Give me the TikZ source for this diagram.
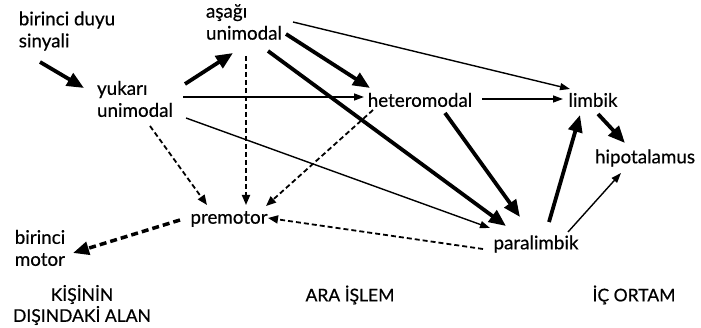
\documentclass[tikz,border=0pt]{standalone}
\usepackage{fontspec}
\setmainfont{Lato}
\newfontfamily\labfont{Lato}[FakeBold=0.5]
\usetikzlibrary{arrows.meta}
\begin{document}
\begin{tikzpicture}[x=1pt,y=-1pt,
  lbl/.style={inner sep=0pt,font=\labfont\fontsize{18.8}{22}\selectfont,align=left},
  hdr/.style={inner sep=0pt,font=\labfont\fontsize{17.5}{21}\selectfont,align=center},
  thick arrow/.style={line width=3.8pt,-{Triangle[length=17pt,width=14pt]}},
  thin arrow/.style={line width=1.4pt,-{Triangle[length=10pt,width=7pt]}},
  dash arrow/.style={line width=1.8pt,dash pattern=on 5pt off 3pt,-{Triangle[length=10pt,width=8pt]}},
  thickdash arrow/.style={line width=3.5pt,dash pattern=on 7pt off 4pt,-{Triangle[length=16pt,width=13pt]}}]
\useasboundingbox[fill=white] (0,0) rectangle (701,328);
\node[lbl] (duyu) at (67,31) {birinci duyu\\sinyali};
\node[lbl] (yuk) at (135,99) {yukarı\\unimodal};
\node[lbl] (asa) at (244,22) {aşağı\\unimodal};
\node[lbl] (het) at (420,100) {heteromodal};
\node[lbl] (lim) at (593,100) {limbik};
\node[lbl] (hip) at (645,158) {hipotalamus};
\node[lbl] (pre) at (229,219) {premotor};
\node[lbl] (mot) at (40,248) {birinci\\motor};
\node[lbl] (par) at (536,244) {paralimbik};
\node[hdr] (h1) at (82,305) {KİŞİNİN\\DIŞINDAKİ ALAN};
\node[hdr] (h2) at (350,295) {ARA İŞLEM};
\node[hdr] (h3) at (634,295) {İÇ ORTAM};
% connectors
\draw[thick arrow] ([shift={(-27,31)}]duyu.center) -- ([shift={(-51,-11)}]yuk.center);
\draw[thick arrow] ([shift={(50,-15)}]yuk.center) -- ([shift={(-11,31)}]asa.center);
\draw[thin arrow] ([shift={(48,-2)}]yuk.center) -- ([shift={(-56,-3)}]het.center);
\draw[thin arrow] ([shift={(51,19)}]yuk.center) -- ([shift={(-46,-16)}]par.center);
\draw[dash arrow] ([shift={(15,27)}]yuk.center) -- ([shift={(-22,-14)}]pre.center);
\draw[dash arrow] ([shift={(2,34)}]asa.center) -- ([shift={(17,-14)}]pre.center);
\draw[thin arrow] ([shift={(49,0)}]asa.center) -- ([shift={(-23,-11)}]lim.center);
\draw[thick arrow] ([shift={(42,12)}]asa.center) -- ([shift={(-50,-12)}]het.center);
\draw[thick arrow] ([shift={(24,29)}]asa.center) -- ([shift={(-30,-18)}]par.center);
\draw[dash arrow] ([shift={(-47,10)}]het.center) -- ([shift={(37,-13)}]pre.center);
\draw[thin arrow] ([shift={(62,-1)}]het.center) -- ([shift={(-30,-1)}]lim.center);
\draw[thick arrow] ([shift={(25,13)}]het.center) -- ([shift={(-16,-27)}]par.center);
\draw[thick arrow] ([shift={(13,-22)}]par.center) -- ([shift={(-13,15)}]lim.center);
\draw[thick arrow] ([shift={(5,14)}]lim.center) -- ([shift={(-20,-15)}]hip.center);
\draw[thin arrow] ([shift={(32,-12)}]par.center) -- ([shift={(-24,15)}]hip.center);
\draw[dash arrow] ([shift={(-53,5)}]par.center) -- ([shift={(39,-1)}]pre.center);
\draw[thickdash arrow] ([shift={(-49,1)}]pre.center) -- ([shift={(33,5)}]mot.center);
\end{tikzpicture}
\end{document}
